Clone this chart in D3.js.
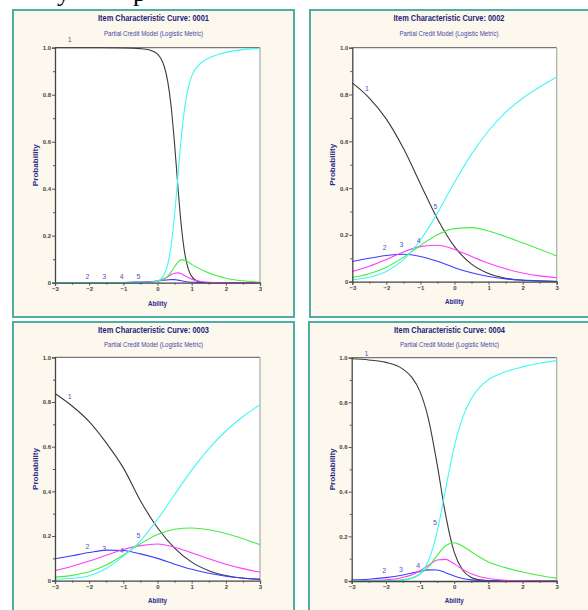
<!DOCTYPE html>
<html><head><meta charset="utf-8">
<script src="https://cdn.jsdelivr.net/npm/d3@7"></script>
<style>html,body{margin:0;padding:0;background:#fff;}svg{display:block;}</style>
</head><body>
<script>
// ---------- data ----------
const categoryNames = ["1", "2", "3", "4", "5"];
const xTickValues = [-3, -2, -1, 0, 1, 2, 3];
const yTickValues = [0, 0.2, 0.4, 0.6, 0.8, 1.0];
const itemTitles = ["Item Characteristic Curve: 0001", "Item Characteristic Curve: 0002",
                    "Item Characteristic Curve: 0003", "Item Characteristic Curve: 0004"];
const subTitle = "Partial Credit Model (Logistic Metric)";

const item1Theta = [-3, -2, -1, -0.5, -0.25, 0, 0.1, 0.2, 0.3, 0.4, 0.5, 0.6, 0.7, 0.8, 0.9, 1.0, 1.2, 1.4, 1.6, 1.8, 2.0, 2.5, 3];
const item1Cat1 = [1.000, 1.000, 0.999, 0.996, 0.991, 0.973, 0.954, 0.919, 0.856, 0.749, 0.590, 0.403, 0.237, 0.123, 0.059, 0.027, 0.005, 0.001, 0, 0, 0, 0, 0];
const item1Cat2 = [0, 0, 0.001, 0.003, 0.004, 0.007, 0.009, 0.011, 0.012, 0.013, 0.013, 0.011, 0.008, 0.005, 0.003, 0.002, 0.001, 0, 0, 0, 0, 0, 0];
const item1Cat3 = [0, 0, 0, 0.001, 0.003, 0.008, 0.012, 0.018, 0.025, 0.034, 0.040, 0.042, 0.038, 0.030, 0.022, 0.015, 0.007, 0.003, 0.001, 0.001, 0, 0, 0];
const item1Cat4 = [0, 0, 0, 0, 0.001, 0.005, 0.009, 0.016, 0.028, 0.046, 0.068, 0.088, 0.097, 0.096, 0.088, 0.078, 0.062, 0.048, 0.036, 0.027, 0.019, 0.008, 0.003];
const item1Cat5 = [0, 0, 0, 0, 0.001, 0.007, 0.016, 0.036, 0.078, 0.158, 0.289, 0.457, 0.622, 0.748, 0.829, 0.879, 0.925, 0.948, 0.962, 0.972, 0.980, 0.992, 0.997];

const item2Theta = [-3, -2.5, -2, -1.5, -1, -0.5, 0, 0.5, 1, 1.5, 2, 2.5, 3];
const item2Cat1 = [0.850, 0.785, 0.695, 0.570, 0.418, 0.268, 0.150, 0.075, 0.035, 0.015, 0.006, 0.003, 0.001];
const item2Cat2 = [0.086, 0.100, 0.112, 0.117, 0.108, 0.087, 0.060, 0.038, 0.022, 0.012, 0.007, 0.004, 0.002];
const item2Cat3 = [0.044, 0.066, 0.095, 0.127, 0.150, 0.156, 0.138, 0.108, 0.079, 0.055, 0.037, 0.025, 0.017];
const item2Cat4 = [0.018, 0.034, 0.062, 0.104, 0.155, 0.201, 0.227, 0.231, 0.217, 0.193, 0.166, 0.139, 0.110];
const item2Cat5 = [0.008, 0.019, 0.044, 0.094, 0.178, 0.293, 0.425, 0.545, 0.645, 0.724, 0.784, 0.832, 0.875];

const item3Theta = [-3, -2.5, -2, -1.5, -1, -0.5, 0, 0.5, 1, 1.5, 2, 2.5, 3];
const item3Cat1 = [0.838, 0.782, 0.712, 0.617, 0.505, 0.358, 0.237, 0.146, 0.083, 0.045, 0.023, 0.011, 0.006];
const item3Cat2 = [0.098, 0.112, 0.126, 0.137, 0.135, 0.120, 0.100, 0.074, 0.051, 0.033, 0.020, 0.012, 0.007];
const item3Cat3 = [0.045, 0.065, 0.088, 0.114, 0.140, 0.157, 0.164, 0.150, 0.125, 0.098, 0.074, 0.054, 0.038];
const item3Cat4 = [0.016, 0.024, 0.040, 0.070, 0.115, 0.165, 0.207, 0.230, 0.236, 0.228, 0.211, 0.188, 0.161];
const item3Cat5 = [0.007, 0.011, 0.022, 0.055, 0.110, 0.178, 0.275, 0.385, 0.495, 0.590, 0.670, 0.735, 0.788];

const item4Theta = [-3, -2.5, -2, -1.5, -1.25, -1, -0.75, -0.5, -0.25, 0, 0.25, 0.5, 0.75, 1, 1.5, 2, 2.5, 3];
const item4Cat1 = [0.995, 0.990, 0.979, 0.949, 0.914, 0.848, 0.723, 0.523, 0.295, 0.129, 0.048, 0.016, 0.005, 0.002, 0, 0, 0, 0];
const item4Cat2 = [0.005, 0.008, 0.015, 0.027, 0.035, 0.043, 0.050, 0.049, 0.037, 0.022, 0.011, 0.005, 0.002, 0.001, 0, 0, 0, 0];
const item4Cat3 = [0, 0.002, 0.005, 0.016, 0.027, 0.046, 0.071, 0.094, 0.097, 0.077, 0.052, 0.032, 0.019, 0.011, 0.003, 0.001, 0, 0];
const item4Cat4 = [0, 0, 0.001, 0.006, 0.013, 0.031, 0.064, 0.114, 0.158, 0.171, 0.156, 0.131, 0.106, 0.085, 0.060, 0.040, 0.025, 0.013];
const item4Cat5 = [0, 0, 0, 0.003, 0.011, 0.032, 0.092, 0.220, 0.413, 0.601, 0.733, 0.816, 0.868, 0.901, 0.937, 0.959, 0.975, 0.987];

// category label anchor points (ability, probability)
const labelTheta = [-2.57, -2.05, -1.56, -1.05, -0.56];
const item1LabelP = [1.033, 0.028, 0.028, 0.028, 0.028];
const item2LabelP = [0.826, 0.147, 0.157, 0.175, 0.320];
const item3LabelP = [0.824, 0.152, 0.142, 0.137, 0.200];
const item4LabelP = [1.020, 0.045, 0.052, 0.067, 0.263];

// ---------- layout / style ----------
const W = 588, H = 610;
const catColors = ["#3a3a3a", "#3c3cff", "#ff3cff", "#44ee44", "#44f6f6"];

const items = [
  { title: itemTitles[0], theta: item1Theta, cats: [item1Cat1, item1Cat2, item1Cat3, item1Cat4, item1Cat5], labelP: item1LabelP,
    box: [13, 10, 281, 307], plot: [55, 260, 47.7, 282.7], cx: 153.5, tY: 21.3, sY: 35.6, aY: 305.5, pX: 36 },
  { title: itemTitles[1], theta: item2Theta, cats: [item2Cat1, item2Cat2, item2Cat3, item2Cat4, item2Cat5], labelP: item2LabelP,
    box: [310, 10, 300, 307], plot: [352.3, 556.7, 47.7, 281.7], cx: 449, tY: 21.3, sY: 35.6, aY: 304.3, pX: 333 },
  { title: itemTitles[2], theta: item3Theta, cats: [item3Cat1, item3Cat2, item3Cat3, item3Cat4, item3Cat5], labelP: item3LabelP,
    box: [13, 322, 281, 300], plot: [55, 260, 357.3, 580.7], cx: 153.5, tY: 333.2, sY: 347, aY: 602.8, pX: 36 },
  { title: itemTitles[3], theta: item4Theta, cats: [item4Cat1, item4Cat2, item4Cat3, item4Cat4, item4Cat5], labelP: item4LabelP,
    box: [309, 322, 300, 300], plot: [351.7, 556.7, 357.7, 581], cx: 449.5, tY: 333.2, sY: 347, aY: 602.8, pX: 333 }
];

const svg = d3.select("body").append("svg").attr("width", W).attr("height", H)
  .style("font-family", "'Liberation Sans', Arial, sans-serif");
svg.append("rect").attr("width", W).attr("height", H).attr("fill", "#ffffff");

// cut-off text of the page above the figure
svg.append("text").attr("x", 57).attr("y", 0.5).attr("font-family", "'Liberation Serif', 'Times New Roman', serif")
  .attr("font-size", 26).attr("fill", "#000").text("y");
svg.append("text").attr("x", 133).attr("y", 0.5).attr("font-family", "'Liberation Serif', 'Times New Roman', serif")
  .attr("font-size", 26).attr("fill", "#000").text("p");

items.forEach(it => {
  const g = svg.append("g");
  const [bx, by, bw, bh] = it.box;
  g.append("rect").attr("x", bx).attr("y", by).attr("width", bw).attr("height", bh)
    .attr("fill", "#fdf8ed").attr("stroke", "#4eaea3").attr("stroke-width", 2);

  g.append("text").attr("x", it.cx).attr("y", it.tY).attr("text-anchor", "middle")
    .attr("font-size", 9.5).attr("font-weight", "bold").attr("fill", "#1c1c7a")
    .attr("textLength", 111).attr("lengthAdjust", "spacingAndGlyphs").text(it.title);
  g.append("text").attr("x", it.cx).attr("y", it.sY).attr("text-anchor", "middle")
    .attr("font-size", 7).attr("fill", "#4646a8")
    .attr("textLength", 99).attr("lengthAdjust", "spacingAndGlyphs").text(subTitle);

  const [x0, x1, yT, yB] = it.plot;
  const x = d3.scaleLinear().domain([-3, 3]).range([x0, x1]);
  const y = d3.scaleLinear().domain([0, 1]).range([yB, yT]);

  g.append("rect").attr("x", x0).attr("y", yT).attr("width", x1 - x0).attr("height", yB - yT).attr("fill", "#ffffff");
  // frame top / right
  g.append("line").attr("x1", x0).attr("x2", x1).attr("y1", yT).attr("y2", yT).attr("stroke", "#777").attr("stroke-width", 1.2);
  g.append("line").attr("x1", x1).attr("x2", x1).attr("y1", yT).attr("y2", yB).attr("stroke", "#aaa").attr("stroke-width", 1.2);

  // curves
  const line = d3.line().x(d => x(d[0])).y(d => y(d[1])).curve(d3.curveMonotoneX);
  it.cats.forEach((vals, k) => {
    const pts = it.theta.map((t, i) => [t, vals[i]]);
    g.append("path").attr("d", line(pts)).attr("fill", "none")
      .attr("stroke", catColors[k]).attr("stroke-width", 1.1);
  });

  // axes
  const yAxis = d3.axisLeft(y).tickValues(yTickValues).tickSize(3).tickPadding(1)
    .tickFormat(d => d === 0 ? "0" : d3.format(".1f")(d));
  const ya = g.append("g").attr("transform", `translate(${x0},0)`).call(yAxis);
  const yMinor = d3.axisLeft(y).tickValues([0.1, 0.3, 0.5, 0.7, 0.9]).tickSize(2).tickFormat("");
  const ym = g.append("g").attr("transform", `translate(${x0},0)`).call(yMinor);
  ym.select(".domain").remove();
  const xAxis = d3.axisBottom(x).tickValues(xTickValues).tickSize(3).tickPadding(1).tickFormat(d3.format("d"));
  const xa = g.append("g").attr("transform", `translate(0,${yB})`).call(xAxis);
  const xMinor = d3.axisBottom(x).tickValues([-2.5, -1.5, -0.5, 0.5, 1.5, 2.5]).tickSize(2).tickFormat("");
  const xm = g.append("g").attr("transform", `translate(0,${yB})`).call(xMinor);
  xm.select(".domain").remove();
  [ya, xa, ym, xm].forEach(a => {
    a.select(".domain").attr("stroke", "#444").attr("stroke-width", 1.3);
    a.selectAll(".tick line").attr("stroke", "#555");
    a.selectAll(".tick text").attr("font-size", 6).attr("font-weight", "bold").attr("fill", "#444")
      .attr("font-family", "'Liberation Sans', Arial, sans-serif");
  });

  // axis titles
  g.append("text").attr("transform", `translate(${it.pX},${(yT + yB) / 2}) rotate(-90)`)
    .attr("text-anchor", "middle").attr("dy", "0.35em").attr("font-size", 7).attr("font-weight", "bold")
    .attr("fill", "#2a2a8c").attr("textLength", 42).attr("lengthAdjust", "spacingAndGlyphs").text("Probability");
  g.append("text").attr("x", (x0 + x1) / 2).attr("y", it.aY).attr("text-anchor", "middle")
    .attr("font-size", 7).attr("font-weight", "bold").attr("fill", "#2a2a8c")
    .attr("textLength", 19).attr("lengthAdjust", "spacingAndGlyphs").text("Ability");

  // category labels
  categoryNames.forEach((name, k) => {
    g.append("text").attr("x", x(labelTheta[k])).attr("y", y(it.labelP[k])).attr("dy", "0.35em")
      .attr("text-anchor", "middle").attr("font-size", 7).attr("fill", "#5252c4").text(name);
  });
});
</script>
</body></html>
